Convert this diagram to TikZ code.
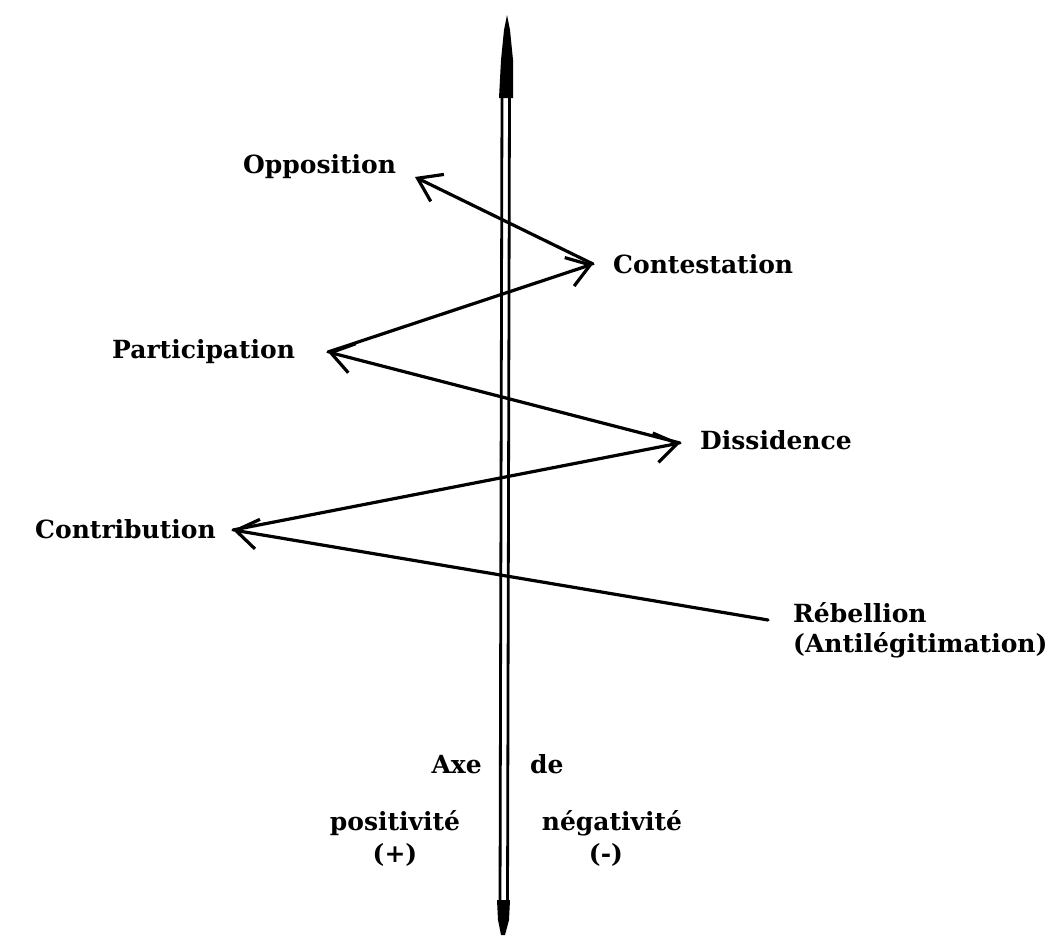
\documentclass[tikz,border=0pt]{standalone}
\usepackage{fontspec}
\setmainfont{DejaVu Serif}
\usetikzlibrary{arrows.meta}
\begin{document}
\begin{tikzpicture}[x=1pt,y=-1pt,
  lbl/.style={inner sep=0pt, font=\fontsize{25}{30}\selectfont\bfseries},
  flow/.style={line width=3.2pt, line cap=round, line join=round,
    -{Straight Barb[length=22pt,width=30pt,line width=3.2pt]}},
  axisline/.style={line width=2.8pt}]
\useasboundingbox (0,0) rectangle (1061,937);

% vertical axis: double rule with solid tapered ends
\draw[axisline] (502,95) -- (500,905);
\draw[axisline] (509.5,95) -- (507.5,905);
\fill (507,15) -- (510,30) -- (513,60) -- (513,98) -- (499,98) -- (501,60) -- (504,30) -- cycle;
\fill (497,900) -- (510,900) -- (509,920) -- (505,935) -- (501,935) -- (498,920) -- cycle;

% labels
\node[lbl, anchor=base west] (opp) at (243,173) {Opposition};
\node[lbl, anchor=base west] (cst) at (613,273) {Contestation};
\node[lbl, anchor=base west] (par) at (112,358) {Participation};
\node[lbl, anchor=base west] (dis) at (700,449) {Dissidence};
\node[lbl, anchor=base west] (con) at (35,538) {Contribution};
\node[lbl, anchor=base west] (reb) at (793,622) {Rébellion};
\node[lbl, anchor=base west] (anti) at (793,652) {(Antilégitimation)};

\node[lbl, anchor=base east] (axe) at (482,773) {Axe};
\node[lbl, anchor=base west] (de) at (530,773) {de};
\node[lbl, anchor=base] (pos) at (395,830) {positivité};
\node[lbl, anchor=base] (neg) at (612,830) {négativité};
\node[lbl, anchor=base] (plus) at (395,862) {(+)};
\node[lbl, anchor=base] (minus) at (606,862) {(-)};

% zigzag path points
\coordinate (reb-end) at (768,620);
\coordinate (con-tip) at (233,530);
\coordinate (dis-tip) at (680,443);
\coordinate (par-tip) at (328,352);
\coordinate (cst-tip) at (593,264);
\coordinate (opp-tip) at (415,177);

\draw[flow] (reb-end) -- (con-tip);
\draw[flow] (con-tip) -- (dis-tip);
\draw[flow] (dis-tip) -- (par-tip);
\draw[flow] (par-tip) -- (cst-tip);
\draw[flow] (cst-tip) -- (opp-tip);
\end{tikzpicture}
\end{document}
